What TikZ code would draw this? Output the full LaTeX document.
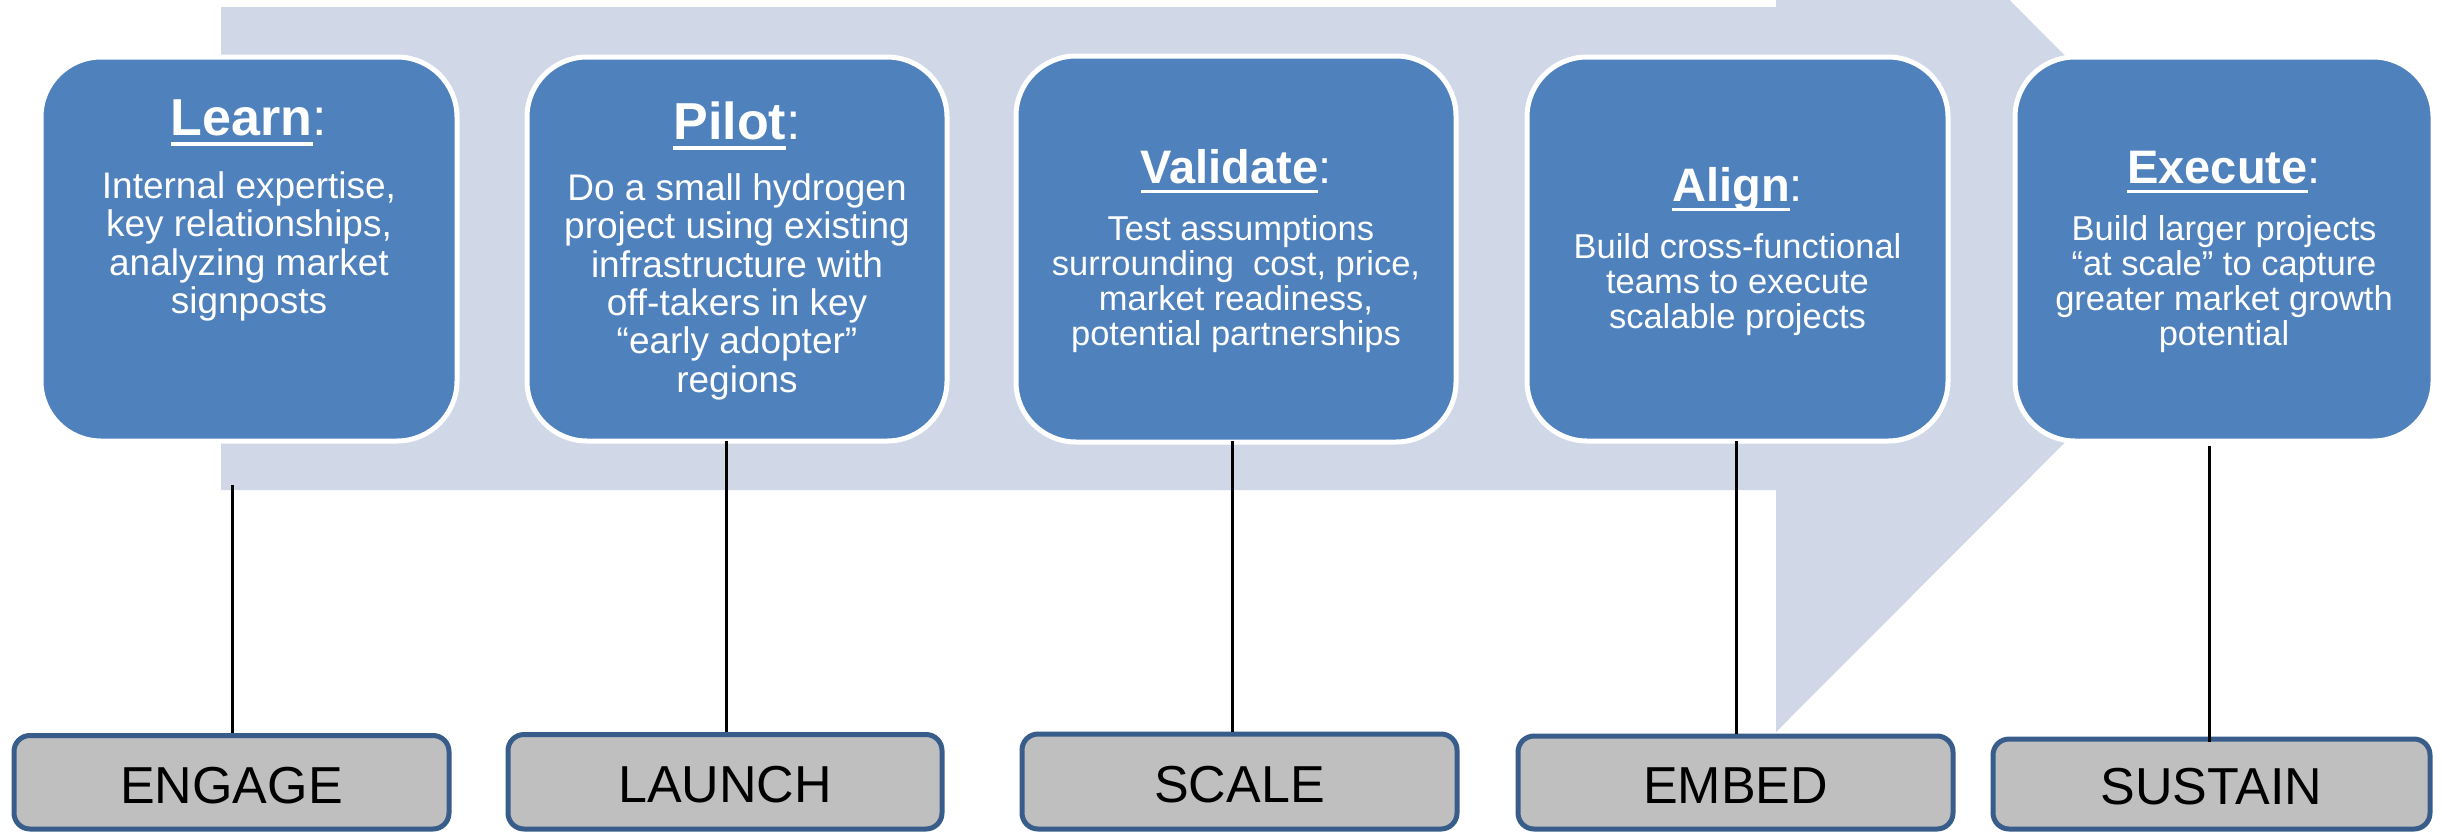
\documentclass[tikz,border=0pt]{standalone}
\usepackage{fontspec}
\setmainfont{Liberation Sans}
\usetikzlibrary{calc}
\definecolor{arrowbg}{RGB}{208,216,232}
\definecolor{boxblue}{RGB}{79,129,189}
\definecolor{lblgray}{RGB}{191,191,191}
\definecolor{lblborder}{RGB}{56,93,138}
\newcommand{\hul}[1]{\setbox0=\hbox{#1}\rlap{\rule[-0.21em]{\wd0}{0.07em}}\box0}
\newcommand{\fl}{\rule{0pt}{30pt}}
\tikzset{
  phase/.style={draw=white, line width=5pt, fill=boxblue, rounded corners=60pt, inner sep=0pt},
  head/.style={text=white, anchor=base, inner sep=0pt},
  bigh/.style={head, font=\fontsize{52}{52}\selectfont},
  smallh/.style={head, font=\fontsize{47}{47}\selectfont},
  bodytxt/.style={text=white, anchor=north, inner sep=0pt, align=center},
  bigb/.style={bodytxt, font=\fontsize{37}{38.4}\selectfont},
  smallb/.style={bodytxt, font=\fontsize{34.5}{35}\selectfont},
  lbl/.style={draw=lblborder, fill=lblgray, line width=5pt, rounded corners=16pt,
    text height=41.5pt, text depth=0pt, inner sep=0pt, font=\fontsize{52}{52}\selectfont},
  conn/.style={draw=black, line width=3pt},
}
\begin{document}
\begin{tikzpicture}[x=1pt,y=-1pt]
\clip (0,0) rectangle (2442,833);
% background arrow
\fill[arrowbg] (221,7) -- (1776,7) -- (1776,-234) -- (2258,249) -- (1776,732)
  -- (1776,490) -- (221,490) -- cycle;
% phase boxes
\node[phase, minimum width=416pt, minimum height=384pt] (learn) at (249,249) {};
\node[phase, minimum width=420pt, minimum height=384pt] (pilot) at (737,249) {};
\node[phase, minimum width=440pt, minimum height=386pt] (validate) at (1236,249) {};
\node[phase, minimum width=421pt, minimum height=384pt] (align) at (1737.5,249) {};
\node[phase, minimum width=418pt, minimum height=384pt] (execute) at (2224,249) {};
% headings
\node[bigh] (learnH) at (249,135) {\hul{\bfseries Learn}:};
\node[bigh] (pilotH) at (737,139) {\hul{\bfseries Pilot}:};
\node[smallh] (validateH) at (1236,183) {\hul{\bfseries Validate}:};
\node[smallh] (alignH) at (1737.5,201) {\hul{\bfseries Align}:};
\node[smallh] (executeH) at (2224,183) {\hul{\bfseries Execute}:};
% body texts
\node[bigb] (learnB) at (249,168) {\fl Internal expertise,\\key relationships,\\analyzing market\\signposts};
\node[bigb] (pilotB) at (737,170) {\fl Do a small hydrogen\\project using existing\\infrastructure with\\off-takers in key\\“early adopter”\\regions};
\node[smallb] (validateB) at (1236,210) {\fl\hspace*{0.28em}Test assumptions\\surrounding\ \ cost, price,\\market readiness,\\potential partnerships};
\node[smallb] (alignB) at (1737.5,228) {\fl Build cross-functional\\teams to execute\\scalable projects};
\node[smallb] (executeB) at (2224,210) {\fl Build larger projects\\“at scale” to capture\\greater market growth\\potential};
% label boxes
\node[lbl, minimum width=435pt, minimum height=93.5pt] (engage) at (231.5,782.25) {ENGAGE};
\node[lbl, minimum width=434pt, minimum height=94.5pt] (launch) at (725,781.75) {LAUNCH};
\node[lbl, minimum width=435pt, minimum height=95pt] (scale) at (1239.5,781.5) {SCALE};
\node[lbl, minimum width=435pt, minimum height=93pt] (embed) at (1735.5,782.5) {EMBED};
\node[lbl, minimum width=437pt, minimum height=90pt] (sustain) at (2211.5,784) {SUSTAIN};
% connectors
\coordinate (t1) at (232,485);
\coordinate (t2) at (726,441);
\coordinate (t3) at (1232,441);
\coordinate (t4) at (1736,441);
\coordinate (t5) at (2209,446);
\draw[conn] (t1) -- (t1 |- engage.north);
\draw[conn] (t2) -- (t2 |- launch.north);
\draw[conn] (t3) -- (t3 |- scale.north);
\draw[conn] (t4) -- (t4 |- embed.north);
\draw[conn] (t5) -- ($(t5 |- sustain.north)+(0,5)$);
\end{tikzpicture}
\end{document}
